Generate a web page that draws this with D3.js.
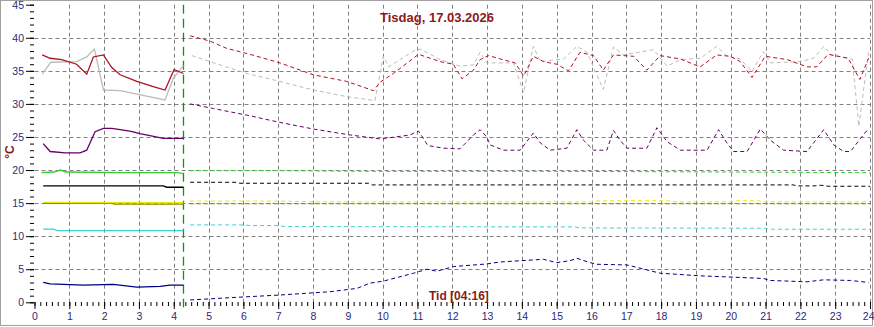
<!DOCTYPE html>
<html>
<head>
<meta charset="utf-8">
<script src="https://cdn.jsdelivr.net/npm/d3@7"></script>
<style>
  body { margin: 0; background: #fff; }
  svg { display: block; font-family: "Liberation Sans", Arial, sans-serif; }
</style>
</head>
<body>
<div class="chart"></div>
<script>
// hours / degrees
const nowTime = 4.27;
const xTicks = d3.range(0, 25);
const yTicks = d3.range(0, 50, 5);

const redNow = [[0.22,37.4],[0.45,36.9],[0.78,36.7],[1.21,36.0],[1.5,34.5],[1.69,37.1],[1.98,37.4],[2.22,35.5],[2.46,34.4],[2.94,33.4],[3.41,32.6],[3.75,32.1],[4.01,35.2],[4.28,34.6]];
const redLater = [[4.47,40.3],[5.04,39.5],[5.52,38.4],[6.19,37.5],[7.05,36.2],[8.01,34.4],[8.97,33.4],[9.74,32.0],[9.93,33.3],[10.31,34.6],[11.03,37.5],[11.65,36.4],[12.03,36.0],[12.28,33.8],[12.61,35.1],[12.8,36.7],[13.04,37.3],[13.38,36.8],[13.81,36.2],[14.05,34.2],[14.33,37.2],[14.62,36.4],[15.0,36.0],[15.34,35.0],[15.67,37.8],[16.06,37.3],[16.34,35.1],[16.63,37.4],[17.21,37.2],[17.59,35.1],[17.97,37.3],[18.55,36.8],[19.12,35.6],[19.6,37.4],[19.99,37.2],[20.27,36.4],[20.61,34.0],[20.99,37.2],[21.62,36.7],[22.19,35.6],[22.47,35.6],[22.8,37.5],[23.37,36.9],[23.56,35.1],[23.71,33.7],[23.96,36.9]];

const grayNow = [[0.22,34.5],[0.47,36.3],[1.21,36.4],[1.5,37.1],[1.72,38.3],[1.98,32.1],[2.46,32.0],[3.75,30.6],[3.99,33.9],[4.28,35.8]];
const grayLater = [[4.52,37.3],[5.04,36.4],[6.1,34.6],[7.05,33.4],[8.01,32.1],[8.97,31.1],[9.78,30.5],[10.02,37.2],[10.17,35.6],[10.41,36.4],[10.89,38.0],[11.08,38.3],[11.65,36.7],[12.22,35.7],[12.61,35.9],[12.8,37.8],[12.99,36.2],[13.76,36.2],[14.05,31.7],[14.33,38.7],[14.53,36.4],[15.2,36.8],[15.58,38.7],[15.87,37.8],[16.34,32.2],[16.63,38.6],[16.92,37.4],[17.78,38.2],[18.17,35.7],[18.55,36.7],[19.12,36.9],[19.6,38.7],[19.89,37.2],[20.27,36.8],[20.61,34.9],[20.94,37.9],[21.14,36.2],[22.0,36.4],[22.38,36.9],[22.67,38.7],[22.9,37.4],[23.49,36.8],[23.68,26.6],[23.96,37.9]];

const purpleNow = [[0.25,24.0],[0.45,22.8],[0.88,22.6],[1.31,22.6],[1.5,23.0],[1.74,25.8],[1.98,26.3],[2.22,26.3],[2.74,25.9],[3.03,25.5],[3.7,24.8],[4.28,24.8]];
const purpleLater = [[4.47,30.0],[5.14,29.3],[6.1,28.3],[7.05,27.2],[8.01,26.2],[9.07,25.3],[9.93,24.7],[10.79,25.3],[11.03,25.9],[11.3,23.7],[11.75,23.3],[12.22,23.2],[12.61,25.3],[12.8,26.1],[12.99,25.0],[13.09,23.8],[13.47,23.0],[13.95,23.0],[14.33,25.6],[14.53,24.1],[14.81,23.0],[15.29,23.3],[15.58,26.1],[15.77,24.5],[16.06,23.0],[16.44,23.0],[16.63,26.0],[16.82,24.5],[17.02,23.3],[17.59,23.3],[17.88,26.4],[18.17,24.3],[18.55,23.0],[19.32,23.0],[19.65,26.1],[19.89,24.1],[20.08,22.8],[20.47,22.8],[20.85,26.2],[21.14,24.5],[21.52,23.0],[22.19,22.8],[22.67,26.1],[22.96,23.8],[23.24,22.8],[23.44,22.8],[23.73,24.8],[23.96,26.3]];

const greenNow = [[0.2,19.6],[0.55,19.7],[0.75,20.0],[0.9,19.7],[2.5,19.6],[4.15,19.6],[4.28,19.4]];
const greenLater = [[4.47,19.9],[7,19.9],[10,19.8],[15,19.8],[20,19.7],[24,19.6]];

const blackNow = [[0.25,17.6],[3.7,17.6],[3.8,17.4],[4.28,17.4]];
const blackLater = [[4.47,18.15],[5.8,18.15],[5.9,18.0],[9.6,18.0],[9.7,17.75],[21.8,17.75],[21.9,17.6],[22.4,17.6],[22.6,17.7],[22.8,17.55],[24,17.55]];

const yellowNow = [[0.25,15.1],[4.28,15.05]];
const yellowLater = [[4.47,15.3],[7,15.3],[8,15.2],[16,15.2],[16.2,15.35],[18.2,15.35],[18.4,15.2],[20,15.2],[20.2,15.35],[20.8,15.35],[21,15.2],[24,15.2]];
const oliveNow = [[0.25,14.95],[2.2,14.95],[2.3,14.85],[4.28,14.85]];
const oliveLater = [[4.47,14.9],[24,14.9]];

const cyanNow = [[0.25,11.05],[0.55,11.05],[0.65,10.85],[4.28,10.85]];
const cyanLater = [[4.47,11.7],[6,11.7],[6.2,11.6],[7,11.6],[7.2,11.45],[15.5,11.4],[15.7,11.25],[21,11.2],[21.2,11.05],[24,11.05]];

const navyNow = [[0.25,3.0],[0.45,2.8],[1.4,2.6],[2.26,2.7],[2.94,2.3],[3.61,2.4],[3.89,2.6],[4.28,2.6]];
const navyLater = [[4.47,0.35],[5.62,0.7],[7.05,1.1],[8.49,1.6],[9.26,2.1],[9.64,2.9],[10.02,3.2],[10.89,4.4],[11.27,5.0],[11.56,4.7],[12.03,5.4],[12.99,5.8],[13.38,6.1],[14.62,6.5],[15.0,6.0],[15.39,6.3],[15.58,6.65],[15.96,6.0],[16.15,5.75],[17.02,5.65],[17.59,4.9],[17.97,4.4],[19.12,4.0],[20.08,3.8],[20.94,3.6],[21.14,3.3],[22.19,3.1],[22.67,3.4],[23.44,3.3],[23.96,3.0]];

const series = [
	{ now: greenNow, later: greenLater, color: "#33cc33" },
	{ now: blackNow, later: blackLater, color: "#000000" },
	{ now: oliveNow, later: oliveLater, color: "#8c8c00" },
	{ now: yellowNow, later: yellowLater, color: "#e8e800" },
	{ now: cyanNow, later: cyanLater, color: "#3fd0d0" },
	{ now: navyNow, later: navyLater, color: "#000080" },
	{ now: purpleNow, later: purpleLater, color: "#660066" },
	{ now: grayNow, later: grayLater, color: "#bcbcbc" },
	{ now: redNow, later: redLater, color: "#b0101e" }
];

const width = 874;
const height = 327;

const svg = d3.select(".chart").append("svg")
				.attr("width", width)
				.attr("height", height);

const x = d3.scaleLinear().domain([0, 24]).range([34.5, 870]);
const y = d3.scaleLinear().domain([0, 45]).range([302.3, 4.7]);

// frame
svg.append("rect")
	.attr("x", 0.5).attr("y", 0.5)
	.attr("width", width - 2).attr("height", height - 2)
	.attr("fill", "none")
	.attr("stroke", "#a0a0a0");

// grid
const grid = svg.append("g").attr("stroke", "#808080").attr("stroke-dasharray", "4,3");
grid.selectAll(".vg")
	.data(xTicks.filter((d) => d > 0)).enter()
	.append("line")
		.attr("x1", (d) => Math.round(x(d)) + 0.5)
		.attr("x2", (d) => Math.round(x(d)) + 0.5)
		.attr("y1", y(45))
		.attr("y2", y(0));
grid.selectAll(".hg")
	.data(yTicks.filter((d) => d > 0 && d < 45)).enter()
	.append("line")
		.attr("x1", x(0))
		.attr("x2", x(24))
		.attr("y1", (d) => Math.round(y(d)) + 0.5)
		.attr("y2", (d) => Math.round(y(d)) + 0.5);

// axes
svg.append("g")
	.attr("transform", "translate(34,0)")
	.call(d3.axisLeft(y).tickValues(yTicks).tickSize(8).tickPadding(2));
svg.append("g")
	.attr("transform", "translate(34,0)")
	.call(d3.axisLeft(y).tickValues(d3.range(0, 46)).tickSize(4).tickFormat(""));

const axisX = svg.append("g")
	.attr("transform", "translate(0,302)")
	.call(d3.axisBottom(x).tickValues(xTicks).tickSize(7).tickPadding(4));
svg.append("g")
	.attr("transform", "translate(0,302)")
	.call(d3.axisBottom(x).tickValues(d3.range(0, 24 * 6 + 1).map((d) => d / 6)).tickSize(4).tickFormat(""));

svg.selectAll(".domain").remove();
svg.selectAll(".tick text")
	.attr("fill", "#2a2a7a")
	.style("font-size", "10.5px")
	.style("font-family", "Liberation Sans, Arial, sans-serif");
// last hour label sits against the frame
axisX.selectAll(".tick text")
	.filter((d) => d === 24)
	.attr("text-anchor", "end")
	.attr("dx", "4px");

// "now" marker
svg.append("line")
	.attr("x1", Math.round(x(nowTime)) + 0.5)
	.attr("x2", Math.round(x(nowTime)) + 0.5)
	.attr("y1", y(45))
	.attr("y2", y(0) + 5)
	.attr("stroke", "#1a8a1a")
	.attr("stroke-width", 1.3)
	.attr("stroke-dasharray", "9,5");

// lines
const line = d3.line()
				.x((d) => x(d[0]))
				.y((d) => y(d[1]));

const lines = svg.selectAll(".serie")
				.data(series).enter()
				.append("g")
				.attr("class", "serie");

lines.append("path")
	.attr("d", (d) => line(d.later))
	.attr("fill", "none")
	.attr("stroke", (d) => d.color)
	.attr("stroke-width", 1)
	.attr("stroke-dasharray", "4,3");

lines.append("path")
	.attr("d", (d) => line(d.now))
	.attr("fill", "none")
	.attr("stroke", (d) => d.color)
	.attr("stroke-width", 1.3);

// texts
svg.append("text")
	.text("Tisdag, 17.03.2026")
	.attr("x", 437)
	.attr("y", 22)
	.attr("text-anchor", "middle")
	.attr("fill", "#8b1a1a")
	.style("font-size", "13px")
	.style("font-weight", "bold");

svg.append("text")
	.text("Tid [04:16]")
	.attr("x", 429)
	.attr("y", 300)
	.attr("fill", "#8b1a1a")
	.style("font-size", "12px")
	.style("font-weight", "bold");

svg.append("text")
	.text("°C")
	.attr("transform", "translate(14,152) rotate(-90)")
	.attr("text-anchor", "middle")
	.attr("fill", "#8b1a1a")
	.style("font-size", "12px")
	.style("font-weight", "bold");
</script>
</body>
</html>
